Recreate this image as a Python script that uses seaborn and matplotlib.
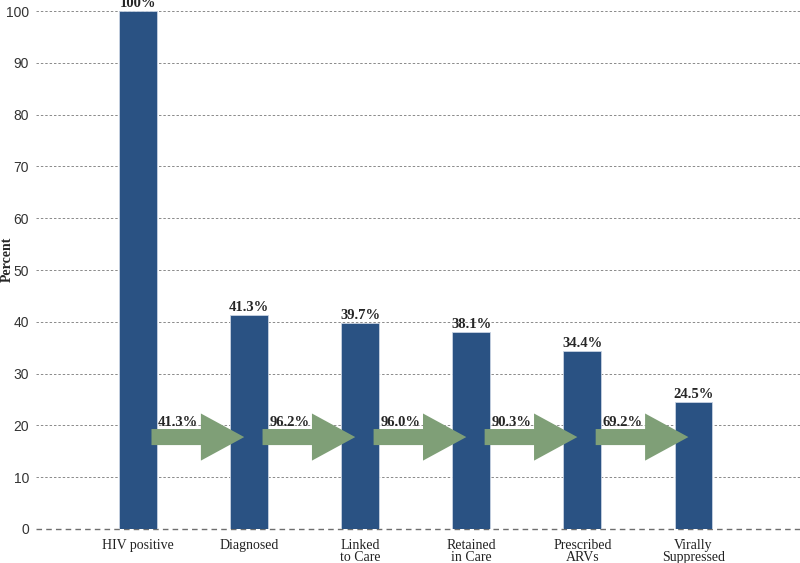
import seaborn as sns
import matplotlib.pyplot as plt
import pandas as pd
from matplotlib.patches import FancyArrow

sns.set_theme(style="white")

stages = ["HIV positive", "Diagnosed", "Linked\nto Care", "Retained\nin Care",
          "Prescribed\nARVs", "Virally\nSuppressed"]
percent = [100, 41.3, 39.7, 38.1, 34.4, 24.5]
bar_labels = ["100%", "41.3%", "39.7%", "38.1%", "34.4%", "24.5%"]
step_labels = ["41.3%", "96.2%", "96.0%", "90.3%", "69.2%"]

df = pd.DataFrame({"stage": stages, "percent": percent})

fig = plt.figure(figsize=(8, 5.63), dpi=100)
ax = fig.add_axes([0.045, 0.0604, 0.955, 0.92])

sns.barplot(data=df, x="stage", y="percent", color="#2a5283", width=0.34,
            edgecolor="#c8d3e2", linewidth=0.6, saturation=1, ax=ax, zorder=2)

ax.set_xlim(-0.92, 5.96)
ax.set_ylim(0, 100)
ax.set_yticks(range(0, 101, 10))
ax.yaxis.grid(True, linestyle=(0, (2.5, 2)), color="#8a8a8a", linewidth=0.7)
ax.set_axisbelow(True)
ax.axhline(0, color="#6e6e6e", linestyle=(0, (4, 3)), linewidth=1.0, zorder=1, clip_on=False)
for s in ax.spines.values():
    s.set_visible(False)
ax.tick_params(axis="both", length=0)
ax.tick_params(axis="y", labelsize=10, pad=5)
for t in ax.get_yticklabels():
    t.set_family("Liberation Sans")
    t.set_color("#333333")
ax.set_xticks(range(len(stages)))
ax.set_xticklabels(stages, family="Liberation Serif", fontsize=10, color="#222222",
                   linespacing=0.95)
ax.tick_params(axis="x", pad=7)
ax.set_xlabel("")
ax.set_ylabel("Percent", family="Liberation Serif", fontweight="bold", fontsize=10)
ax.yaxis.set_label_coords(-0.029, 0.52)

for i, v in enumerate(percent):
    ax.text(i, v + 0.2, bar_labels[i], ha="center", va="bottom", family="Liberation Serif",
            fontweight="bold", fontsize=10.5, clip_on=False, zorder=4)

for i, lab in enumerate(step_labels):
    arr = FancyArrow(i + 0.12, 17.75, 0.835, 0, width=3.1, head_width=9.1,
                     head_length=0.39, length_includes_head=True,
                     color="#7f9f77", linewidth=0, zorder=3)
    ax.add_patch(arr)
    ax.text(i + 0.18, 19.3, lab, ha="left", va="bottom", family="Liberation Serif",
            fontweight="bold", fontsize=10.5, zorder=4)

fig.savefig("out.png", dpi=100)
